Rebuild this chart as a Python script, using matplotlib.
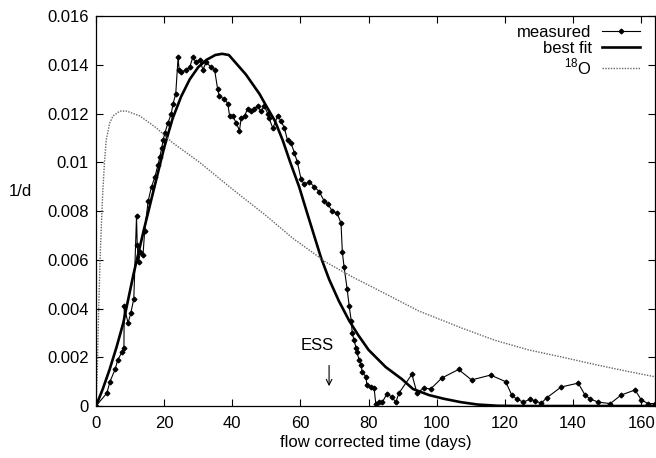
import numpy as np
import matplotlib
matplotlib.use('Agg')
import matplotlib.pyplot as plt

plt.rcParams['font.family'] = ['Liberation Sans', 'DejaVu Sans']
plt.rcParams['mathtext.fontset'] = 'custom'
plt.rcParams['mathtext.rm'] = 'Liberation Sans'

# measured tracer breakthrough
meas_t = [0, 3.2, 4.1, 5.6, 6.4, 7.6, 8.2, 8.3, 9.4, 10.2, 11.1, 11.9, 12.1, 12.5, 13.0,
          13.8, 14.3, 15.3, 16.3, 17.3, 18.2, 18.7, 19.3, 19.7, 20.2, 21.1, 22.1, 22.6,
          23.4, 24.1, 24.4, 25.0, 26.5, 27.5, 28.4, 29.4, 30.4, 31.4, 32.3, 33.8, 34.8,
          35.7, 36.2, 37.7, 38.7, 39.2, 40.1, 41.2, 42.1, 42.6, 43.6, 44.5, 45.5, 46.5,
          47.4, 48.4, 49.4, 50.4, 50.8, 51.9, 53.3, 54.3, 55.3, 56.2, 57.2, 58.2, 59.1,
          60.2, 61.1, 62.6, 64.0, 65.5, 67.0, 68.0, 69.3, 70.8, 71.9, 72.3, 72.8, 73.7,
          74.3, 74.9, 75.2, 75.7, 76.3, 76.6, 77.2, 77.8, 78.1, 79.2, 79.5, 80.7, 81.6,
          82.1, 83.0, 84.0, 85.4, 86.8, 88.0, 88.9, 92.7, 94.2, 96.2, 98.2, 101.5, 106.4,
          110.2, 115.8, 120.2, 122.0, 123.4, 125.4, 127.5, 128.9, 130.7, 132.2, 136.5,
          141.5, 143.5, 145.0, 147.4, 150.9, 154.1, 158.2, 160.0, 162.0, 164.0]
meas_v = [0, 0.00053, 0.0010, 0.0015, 0.0019, 0.0022, 0.0024, 0.0041, 0.0034, 0.0038,
          0.0044, 0.0078, 0.0066, 0.0059, 0.0063, 0.0062, 0.0072, 0.0084, 0.0090, 0.0094,
          0.0099, 0.0102, 0.0106, 0.0109, 0.0112, 0.0116, 0.0120, 0.0124, 0.0128, 0.0143,
          0.0138, 0.0137, 0.0138, 0.0139, 0.0143, 0.0141, 0.0142, 0.0138, 0.0141, 0.0139,
          0.0138, 0.0130, 0.0127, 0.0126, 0.0124, 0.0119, 0.0119, 0.0116, 0.0113, 0.0118,
          0.0119, 0.0122, 0.0121, 0.0122, 0.0123, 0.0121, 0.0123, 0.0120, 0.0118, 0.0114,
          0.0119, 0.0117, 0.0114, 0.0109, 0.0108, 0.0104, 0.0100, 0.0093, 0.0091, 0.0092,
          0.0090, 0.0088, 0.0084, 0.0083, 0.0080, 0.0079, 0.0075, 0.0063, 0.0057, 0.0048,
          0.0041, 0.0035, 0.0030, 0.0027, 0.0024, 0.0022, 0.0019, 0.0017, 0.0014, 0.0012,
          0.00086, 0.0008, 0.00074, 0.0001, 0.00016, 0.00016, 0.0005, 0.00037, 0.00016,
          0.00053, 0.0013, 0.00053, 0.00074, 0.0007, 0.00115, 0.0015, 0.00107, 0.00127,
          0.0010, 0.00045, 0.00029, 0.00016, 0.00029, 0.0002, 0.00012, 0.00033, 0.00078,
          0.00094, 0.00045, 0.00029, 0.00016, 0.0001, 0.00045, 0.00066, 0.00025, 0.0001,
          0.0001]

# best fit curve
fit_t = [0, 2, 4, 6, 8, 11, 14, 17.7, 20, 22.5, 25, 27.5, 30, 32.4, 35, 37, 39, 41.5,
         44, 46, 48, 50, 52.5, 54.8, 57, 59.6, 62, 64, 66, 68.4, 71.3, 74.3, 77, 80, 85,
         89.8, 93, 97.7, 102, 107, 112, 118, 125, 164]
fit_v = [0, 0.0007, 0.0015, 0.0024, 0.0034, 0.0054, 0.0072, 0.0093, 0.0106, 0.0118,
         0.0127, 0.0134, 0.0139, 0.0142, 0.0144, 0.01445, 0.0144, 0.0140, 0.0136, 0.0132,
         0.0128, 0.0123, 0.0117, 0.0109, 0.0100, 0.0090, 0.0079, 0.0070, 0.0061, 0.0052,
         0.0043, 0.0035, 0.0029, 0.0023, 0.0016, 0.0011, 0.0007, 0.00045, 0.0003, 0.00016,
         0.00006, 0.00001, 0, 0]

# 18O curve
o18_t = [0, 0.4, 0.8, 1.2, 1.6, 2.0, 2.5, 3, 4, 5, 7, 9, 12.9, 17.8, 22.5, 30.4, 40, 50,
         57.6, 67.5, 75.2, 85, 94.7, 107.3, 117, 127, 137, 146.5, 155, 164]
o18_v = [0, 0.0015, 0.004, 0.006, 0.0075, 0.0088, 0.0100, 0.0109, 0.0116, 0.0119, 0.0121,
         0.0121, 0.0119, 0.0114, 0.0108, 0.0100, 0.0089, 0.0078, 0.0069, 0.0059, 0.0053,
         0.0046, 0.0039, 0.0032, 0.0027, 0.0023, 0.0020, 0.0017, 0.00145, 0.0012]

fig = plt.figure(figsize=(6.56, 4.58), dpi=100)
ax = fig.add_axes([0.1463, 0.1135, 0.852, 0.8515])

ax.plot(meas_t, meas_v, color='black', lw=0.8, marker='D', ms=2.4,
        label='measured')
ax.plot(fit_t, fit_v, color='black', lw=1.9, label='best fit')
ax.plot(o18_t, o18_v, color='0.4', lw=1.0, linestyle=(0, (1, 1)),
        label=r'$^{\mathregular{18}}$O')

ax.set_xlim(0, 164)
ax.set_ylim(0, 0.016)
ax.set_xticks(range(0, 161, 20))
ax.set_yticks(np.arange(0, 0.0161, 0.002))
ax.set_yticklabels(['%g' % round(v, 3) for v in np.arange(0, 0.0161, 0.002)])
ax.tick_params(direction='in', length=5, width=0.8, top=True, right=True,
               labelsize=12)
ax.tick_params(axis='x', pad=7)
ax.tick_params(axis='y', pad=5)
for s in ax.spines.values():
    s.set_linewidth(0.9)

ax.set_xlabel('flow corrected time (days)', fontsize=12, labelpad=3)
ax.set_ylabel('1/d', fontsize=12, rotation=0, va='center', ha='center')
ax.yaxis.set_label_coords(-0.136, 0.549)

ax.text(65, 0.0025, 'ESS', fontsize=12, ha='center', va='center')
ax.annotate('', xy=(68.4, 0.0007), xytext=(68.4, 0.00178),
            arrowprops=dict(arrowstyle='->', lw=0.8, color='black'))

leg = ax.legend(loc='upper right', bbox_to_anchor=(640 / 656, 1 - 25 / 458),
                bbox_transform=fig.transFigure, frameon=False, markerfirst=False,
                fontsize=12, handlelength=2.3, handletextpad=0.6,
                labelspacing=0.05, borderpad=0, borderaxespad=0)

fig.savefig('out.png', dpi=100)
